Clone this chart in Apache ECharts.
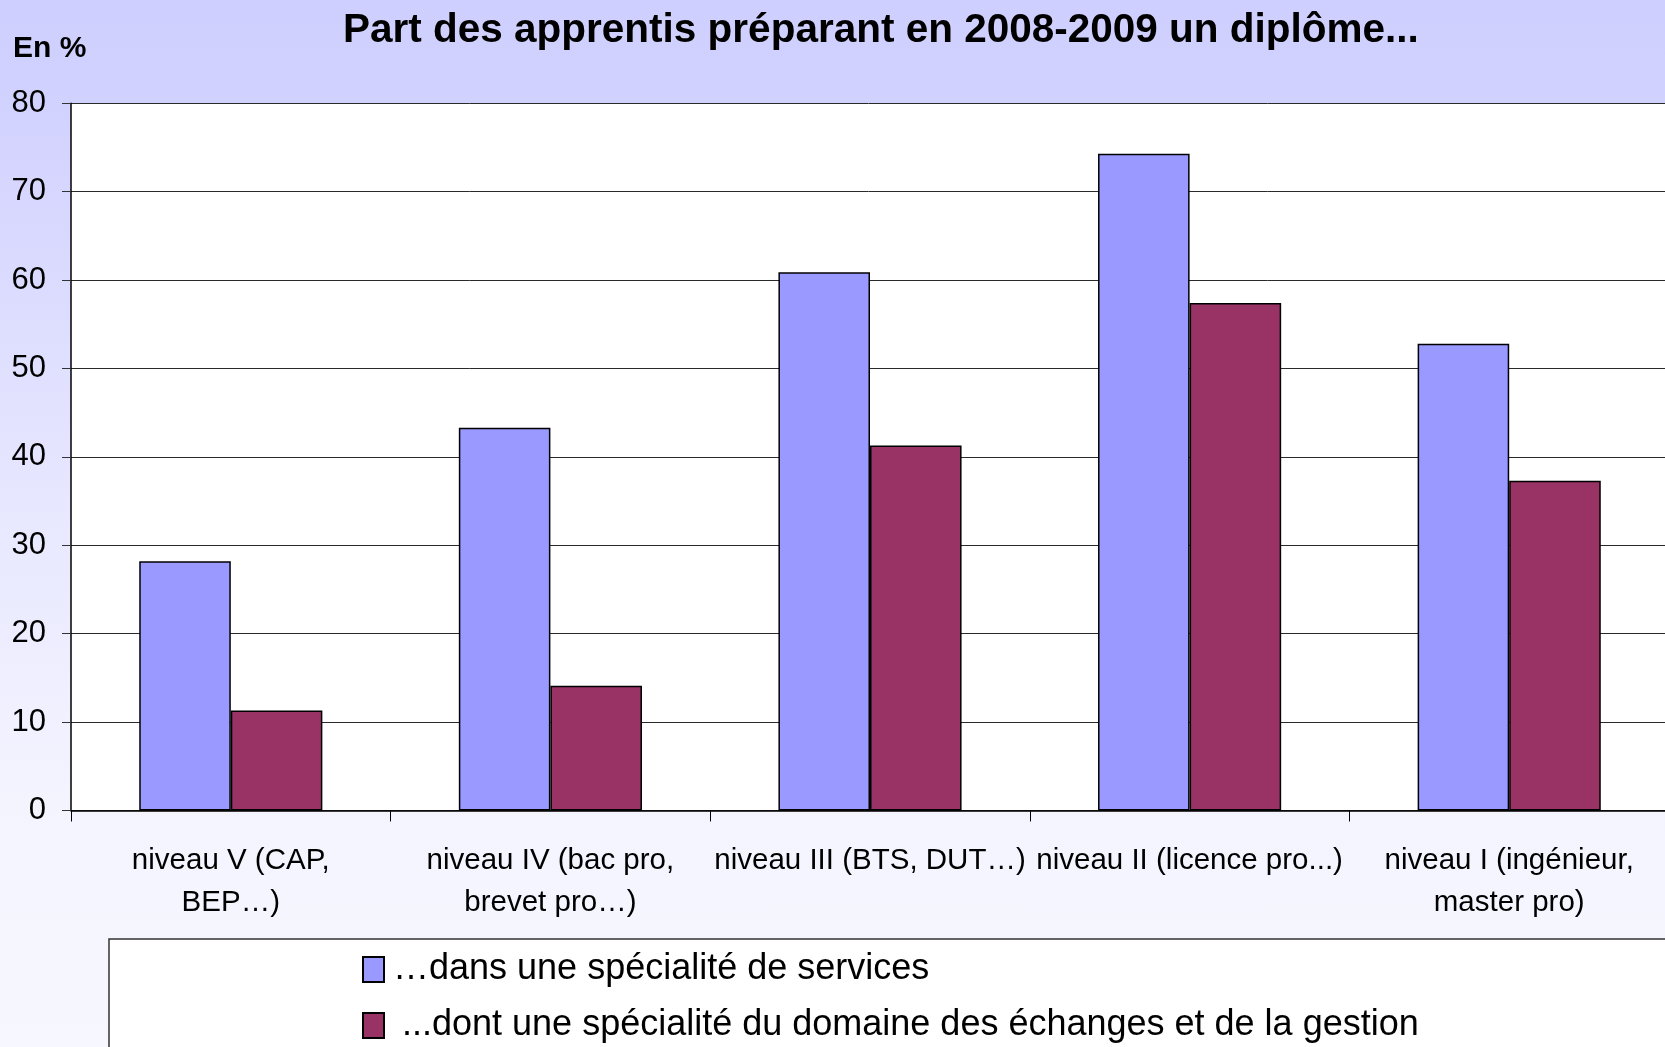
<!DOCTYPE html>
<html>
<head>
<meta charset="utf-8">
<script src="https://cdn.jsdelivr.net/npm/echarts@6/dist/echarts.min.js"></script>
<style>
  html, body { margin: 0; padding: 0; }
  body {
    width: 1665px; height: 1047px; overflow: hidden;
    background: linear-gradient(to bottom, #cfcfff 0px, #d2d2ff 110px, #e8e8ff 520px, #f4f4ff 800px, #f7f7ff 1047px);
  }
  #chart { width: 1665px; height: 1047px; }
</style>
</head>
<body>
<div id="chart"></div>
<script>
// niveaux de diplome
var categories = [
  'niveau V (CAP,\nBEP…)',
  'niveau IV (bac pro,\nbrevet pro…)',
  'niveau III (BTS, DUT…)',
  'niveau II (licence pro...)',
  'niveau I (ingénieur,\nmaster pro)'
];
var seriesNames = [
  '…dans une spécialité de services',
  '...dont une spécialité du domaine des échanges et de la gestion'
];
// valeurs en %
var services = [28.2, 43.3, 60.9, 74.3, 52.8];
var echanges = [11.3, 14.1, 41.3, 57.4, 37.3];
var yTicks = [0, 10, 20, 30, 40, 50, 60, 70, 80];

var font = 'Liberation Sans, Arial, sans-serif';
var chart = echarts.init(document.getElementById('chart'), null, { renderer: 'canvas' });

var option = {
  backgroundColor: 'transparent',
  animation: false,
  title: [{
    text: 'Part des apprentis préparant en 2008-2009 un diplôme...',
    left: 343,
    top: 10,
    padding: 0,
    textStyle: { fontFamily: font, fontSize: 40.5, fontWeight: 'bold', color: '#000' }
  }, {
    text: 'En %',
    left: 13,
    top: 34,
    padding: 0,
    textStyle: { fontFamily: font, fontSize: 30, fontWeight: 'bold', color: '#000' }
  }],
  graphic: [{
    type: 'rect',
    z: -10,
    shape: { x: 109, y: 939, width: 1620, height: 200 },
    style: { fill: '#ffffff', stroke: '#333333', lineWidth: 1.5 }
  }],
  legend: {
    orient: 'vertical',
    left: 362,
    top: 951,
    padding: 0,
    itemGap: 19,
    itemWidth: 21,
    itemHeight: 25,
    icon: 'rect',
    data: [
      { name: seriesNames[0] },
      { name: seriesNames[1], textStyle: { padding: [0, 0, 0, 13] } }
    ],
    textStyle: { fontFamily: font, fontSize: 36, color: '#000', lineHeight: 37, padding: [0, 0, 0, 4] }
  },
  grid: {
    left: 71,
    width: 1598,
    top: 103.3,
    bottom: 236.5,
    outerBoundsMode: 'none',
    containLabel: false,
    show: true,
    backgroundColor: '#ffffff',
    borderWidth: 0
  },
  xAxis: {
    type: 'category',
    data: categories,
    axisLine: { lineStyle: { color: '#000', width: 1.5 } },
    axisTick: { show: true, length: 11, lineStyle: { color: '#000', width: 1 } },
    axisLabel: {
      interval: 0,
      margin: 29,
      fontFamily: font,
      fontSize: 29.5,
      lineHeight: 42,
      color: '#000',
      align: 'center'
    }
  },
  yAxis: {
    type: 'value',
    min: yTicks[0],
    max: yTicks[yTicks.length - 1],
    interval: 10,
    axisLine: { show: true, lineStyle: { color: '#000', width: 1.5 } },
    axisTick: { show: true, length: 9, lineStyle: { color: '#333', width: 1 } },
    axisLabel: { margin: 25, fontFamily: font, fontSize: 31, color: '#000' },
    splitLine: { show: true, lineStyle: { color: '#2a2a2a', width: 1 } }
  },
  series: [{
    name: seriesNames[0],
    type: 'bar',
    data: services,
    barGap: '0%',
    barCategoryGap: '42.7%',
    itemStyle: { color: '#9999ff', borderColor: '#000', borderWidth: 1.5 }
  }, {
    name: seriesNames[1],
    type: 'bar',
    data: echanges,
    itemStyle: { color: '#993366', borderColor: '#000', borderWidth: 1.5 }
  }]
};
chart.setOption(option);
</script>
</body>
</html>
